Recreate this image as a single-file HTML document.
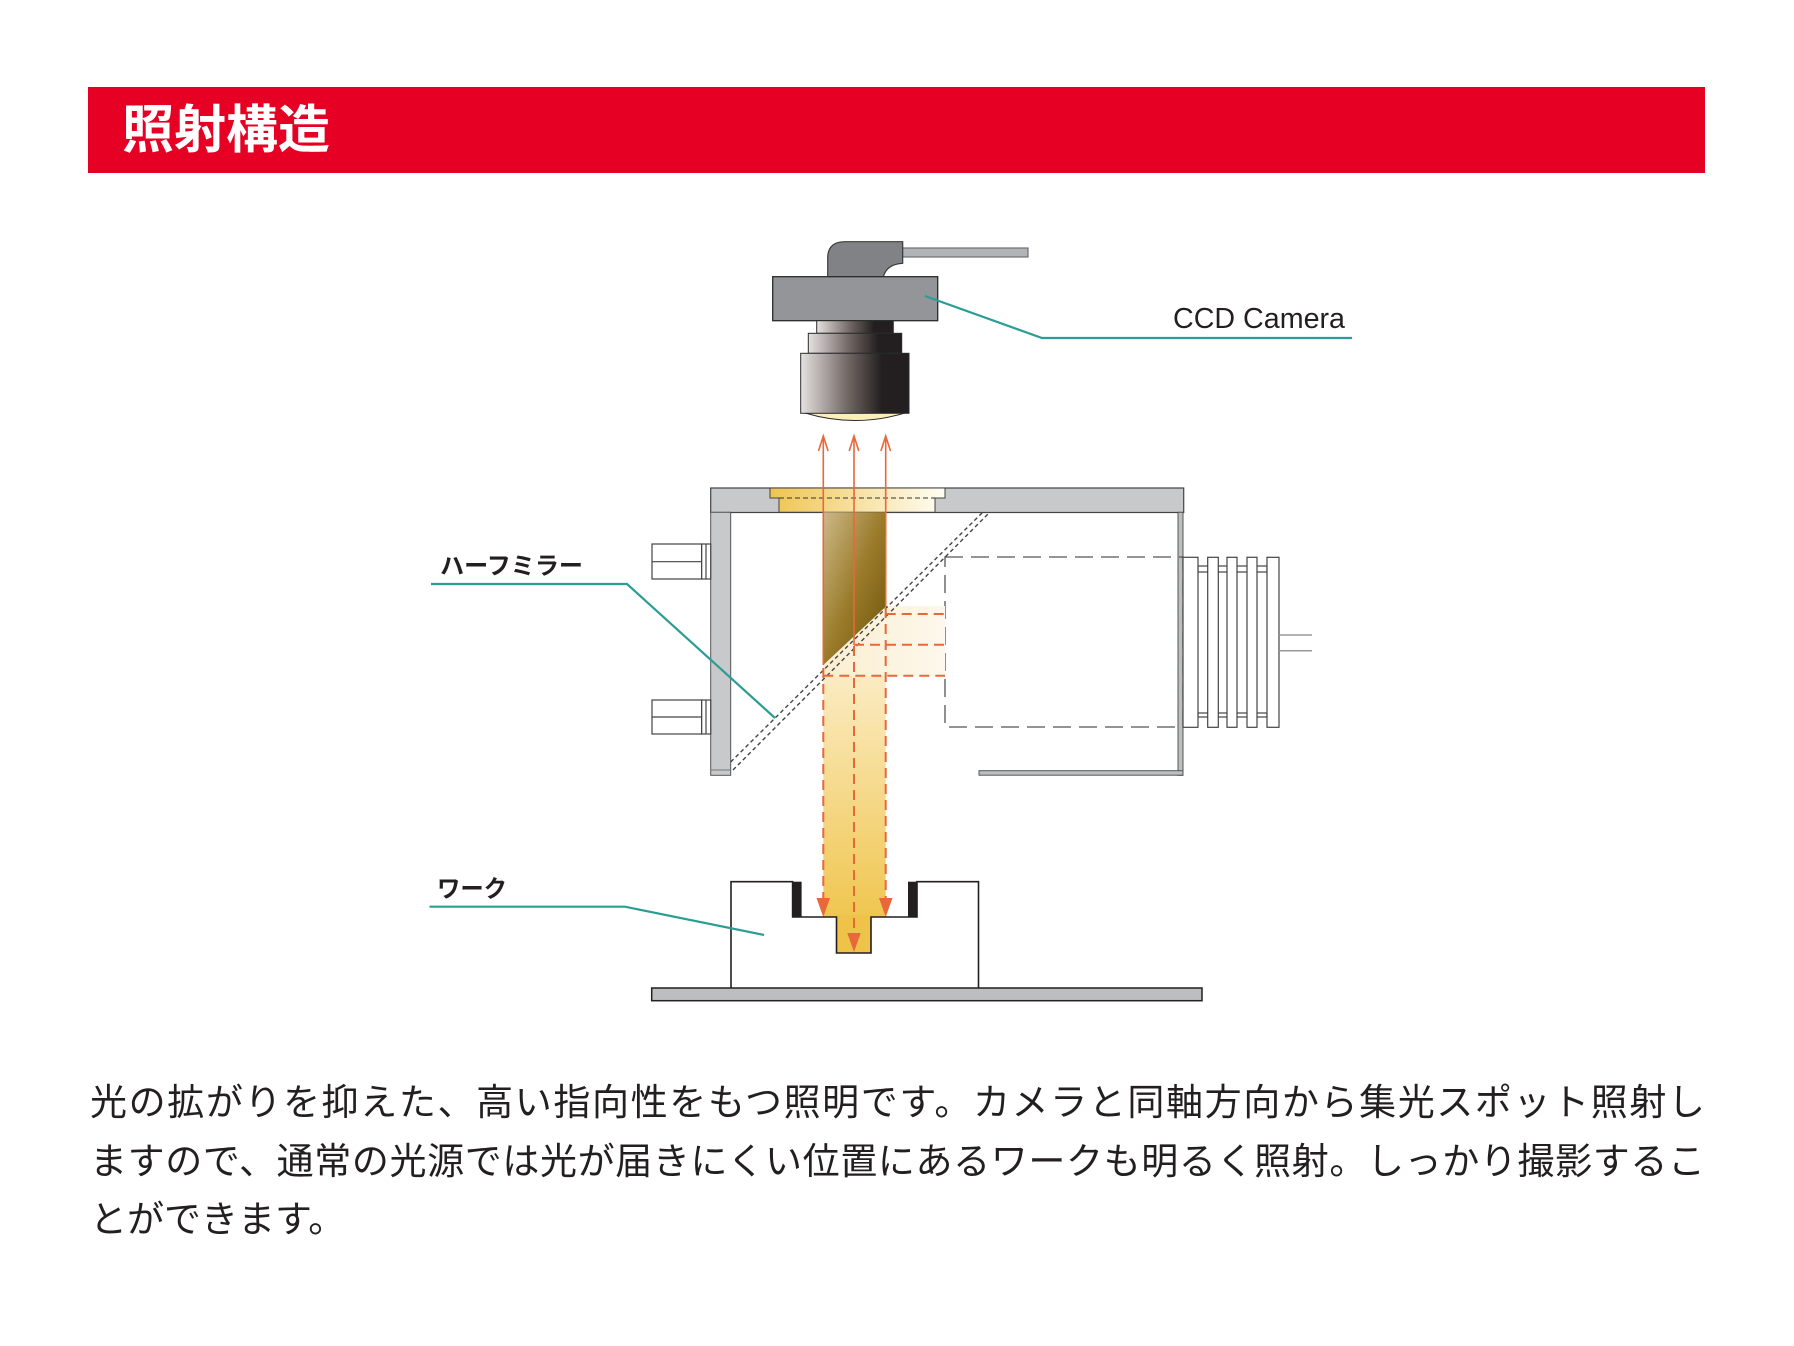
<!DOCTYPE html>
<html><head><meta charset="utf-8">
<style>
html,body{margin:0;padding:0;background:#fff;}
body{width:1794px;height:1346px;position:relative;overflow:hidden;}
svg{position:absolute;left:0;top:0;}
.txt{position:absolute;left:90px;top:1074px;width:1615px;font-family:"Liberation Sans","Noto Sans CJK JP",sans-serif;font-size:37px;line-height:58.6px;color:#231f20;}
.txt div{text-align:justify;text-align-last:justify;white-space:nowrap;}
.txt div.last{text-align-last:left;}
</style></head><body>
<svg width="1794" height="1346" viewBox="0 0 1794 1346">
<defs>
<linearGradient id="lens" x1="0" x2="1" y1="0" y2="0">
<stop offset="0" stop-color="#e6e2e1"/><stop offset="0.45" stop-color="#6d6360"/><stop offset="0.75" stop-color="#231f20"/><stop offset="1" stop-color="#231f20"/>
</linearGradient>
<linearGradient id="win" x1="0" x2="1" y1="0" y2="0">
<stop offset="0" stop-color="#efc450"/><stop offset="1" stop-color="#fffdf5"/>
</linearGradient>
<linearGradient id="brown" x1="0" x2="1" y1="0" y2="1">
<stop offset="0" stop-color="#cdb888"/><stop offset="0.5" stop-color="#9a7b2a"/><stop offset="1" stop-color="#6b5208"/>
</linearGradient>
<linearGradient id="beam" x1="0" x2="0" y1="0" y2="1">
<stop offset="0" stop-color="#fdf6e3"/><stop offset="1" stop-color="#f0c650"/>
</linearGradient>
<linearGradient id="hbeam" x1="0" x2="1" y1="0" y2="0">
<stop offset="0" stop-color="#fbeed0"/><stop offset="1" stop-color="#fdf8ec"/>
</linearGradient>
</defs>
<rect x="88" y="87" width="1617" height="86" fill="#e60023"/>
<text x="122" y="148" font-family="'Liberation Sans','Noto Sans CJK JP',sans-serif" font-weight="bold" font-size="52" fill="#fff">照射構造</text>

<rect x="900" y="248" width="128" height="9" fill="#b1b3b6" stroke="#6d6e71" stroke-width="1.2"/>
<path d="M827.7,276.7 V258 Q827.7,241.7 845,241.7 H902.7 V263.3 Q887,264 883.3,276.7 Z" fill="#808285" stroke="#3a3a3a" stroke-width="1.2"/>
<rect x="772.7" y="276.7" width="165" height="44" fill="#939598" stroke="#2b2b2b" stroke-width="1.3"/>
<rect x="816.7" y="320.7" width="76.6" height="12.6" fill="url(#lens)" stroke="#2b2b2b" stroke-width="1"/>
<rect x="808.3" y="333.3" width="93.4" height="20" fill="url(#lens)" stroke="#2b2b2b" stroke-width="1"/>
<path d="M805,413 Q855,428 905,413 Z" fill="#fbefb8" stroke="#2b2b2b" stroke-width="1"/>
<rect x="800.7" y="353.3" width="108.3" height="60" fill="url(#lens)" stroke="#2b2b2b" stroke-width="1"/>

<polyline points="925,296 1042,338 1352,338" fill="none" stroke="#2a9d94" stroke-width="2.2"/>
<text x="1173" y="328" font-family="'Liberation Sans',sans-serif" font-size="29" fill="#231f20" textLength="172" lengthAdjust="spacingAndGlyphs">CCD Camera</text>

<rect x="710.7" y="488" width="473" height="24.5" fill="#c8c9cb" stroke="#444" stroke-width="1.2"/>
<path d="M770,488 H945 V498 H935 V512.3 H779 V498 H770 Z" fill="url(#win)" stroke="#444" stroke-width="1"/>
<line x1="779" y1="498" x2="935" y2="498" stroke="#333" stroke-width="1" stroke-dasharray="5 3"/>
<rect x="710.7" y="512.3" width="20" height="263" fill="#c8c9cb" stroke="#555" stroke-width="1"/>
<line x1="710.7" y1="770" x2="730.7" y2="770" stroke="#777" stroke-width="1"/>
<rect x="1178" y="512.3" width="5" height="263" fill="#bcbec0" stroke="#555" stroke-width="1"/>
<rect x="979" y="770.7" width="204" height="4.5" fill="#bcbec0" stroke="#555" stroke-width="1"/>
<g fill="#fff" stroke="#444" stroke-width="1.2">
<rect x="652" y="544" width="49.7" height="35"/><line x1="652" y1="561.7" x2="701.7" y2="561.7"/><rect x="701.7" y="544" width="9" height="35"/><line x1="706" y1="544" x2="706" y2="579"/>
<rect x="652" y="700" width="49.7" height="34"/><line x1="652" y1="717" x2="701.7" y2="717"/><rect x="701.7" y="700" width="9" height="34"/><line x1="706" y1="700" x2="706" y2="734"/>
</g>
<rect x="945" y="557" width="238" height="170" fill="none" stroke="#555" stroke-width="1.3" stroke-dasharray="18 8"/>
<g fill="#fff" stroke="#444" stroke-width="1.2">
<rect x="1198" y="566" width="69" height="6"/>
<rect x="1198" y="713" width="69" height="4"/>
<rect x="1183" y="557.3" width="15" height="170"/>
<rect x="1207.7" y="557.3" width="10.6" height="170"/>
<rect x="1227" y="557.3" width="10" height="170"/>
<rect x="1247" y="557.3" width="10" height="170"/>
<rect x="1267" y="557.3" width="12" height="170"/>
</g>
<line x1="1279" y1="635" x2="1312" y2="635" stroke="#999" stroke-width="1.5"/>
<line x1="1279" y1="650.7" x2="1312" y2="650.7" stroke="#999" stroke-width="1.5"/>

<rect x="823.3" y="606" width="62.4" height="311" fill="url(#beam)"/>
<polygon points="885.7,606 945,606 945,676 823.3,676 823.3,665" fill="url(#hbeam)"/>
<rect x="836.5" y="915" width="34.5" height="38" fill="#efc24a"/>
<polygon points="823.3,512.3 885.7,512.3 885.7,606.7 823.3,665" fill="url(#brown)"/>
<line x1="730.7" y1="762" x2="983" y2="512" stroke="#444" stroke-width="1.4" stroke-dasharray="4 3"/>
<line x1="733" y1="770" x2="990" y2="512" stroke="#444" stroke-width="1.4" stroke-dasharray="4 3"/>
<g stroke="#e8683a" stroke-width="1.6" fill="none">
<line x1="823.3" y1="437" x2="823.3" y2="665"/>
<line x1="854" y1="437" x2="854" y2="645"/>
<line x1="885.7" y1="437" x2="885.7" y2="607"/>
<polyline points="818.5,451 823.3,436 828.1,451"/>
<polyline points="849.2,451 854,436 858.8,451"/>
<polyline points="880.9,451 885.7,436 890.5,451"/>
</g>
<g stroke="#e8683a" stroke-width="2" fill="none" stroke-dasharray="10 6">
<line x1="885.7" y1="614" x2="945" y2="614"/>
<line x1="854" y1="644.7" x2="945" y2="644.7"/>
<line x1="823.3" y1="675.7" x2="945" y2="675.7"/>
<line x1="823.3" y1="668" x2="823.3" y2="900"/>
<line x1="854" y1="646" x2="854" y2="936"/>
<line x1="885.7" y1="608" x2="885.7" y2="900"/>
</g>
<g fill="#e8683a">
<polygon points="816.5,898 830,898 823.3,917"/>
<polygon points="879,898 892.5,898 885.7,917"/>
<polygon points="847.3,933 860.7,933 854,952"/>
</g>

<polyline points="431,584 627,584 775,718" fill="none" stroke="#2a9d94" stroke-width="2.2"/>
<text x="440" y="574" font-family="'Liberation Sans','Noto Sans CJK JP',sans-serif" font-weight="bold" font-size="24" fill="#231f20" textLength="143" lengthAdjust="spacingAndGlyphs">ハーフミラー</text>

<path d="M731,988 V881.7 H792.6 V917 H836.5 V953 H871 V917 H917 V881.7 H978.5 V988" fill="none" stroke="#231f20" stroke-width="1.6"/>
<rect x="792.6" y="881.7" width="9" height="35.3" fill="#231f20"/>
<rect x="908" y="881.7" width="9" height="35.3" fill="#231f20"/>
<rect x="651.7" y="988" width="550.3" height="12.7" fill="#bcbec0" stroke="#231f20" stroke-width="1.5"/>
<polyline points="429.5,906.7 625,906.7 764,935" fill="none" stroke="#2a9d94" stroke-width="2.2"/>
<text x="437" y="897" font-family="'Liberation Sans','Noto Sans CJK JP',sans-serif" font-weight="bold" font-size="24" fill="#231f20" textLength="70" lengthAdjust="spacingAndGlyphs">ワーク</text>
</svg>
<div class="txt">
<div>光の拡がりを抑えた、高い指向性をもつ照明です。カメラと同軸方向から集光スポット照射し</div>
<div>ますので、通常の光源では光が届きにくい位置にあるワークも明るく照射。しっかり撮影するこ</div>
<div class="last">とができます。</div>
</div>
</body></html>
